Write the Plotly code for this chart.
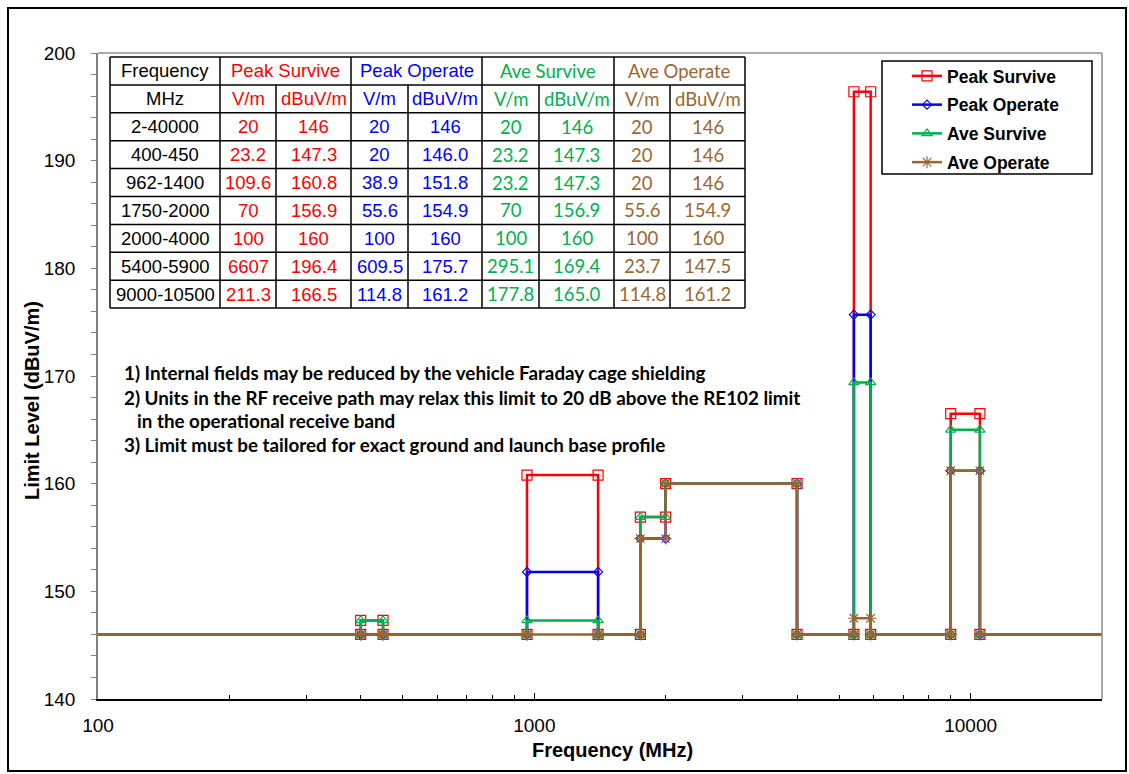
import plotly.graph_objects as go

# ---- Limit table (frequency ranges in MHz, field strengths) ----
freq_ranges = ["2-40000", "400-450", "962-1400", "1750-2000", "2000-4000", "5400-5900", "9000-10500"]

peak_survive_vm = ["20", "23.2", "109.6", "70", "100", "6607", "211.3"]
peak_survive_db = ["146", "147.3", "160.8", "156.9", "160", "196.4", "166.5"]
peak_operate_vm = ["20", "20", "38.9", "55.6", "100", "609.5", "114.8"]
peak_operate_db = ["146", "146.0", "151.8", "154.9", "160", "175.7", "161.2"]
ave_survive_vm = ["20", "23.2", "23.2", "70", "100", "295.1", "177.8"]
ave_survive_db = ["146", "147.3", "147.3", "156.9", "160", "169.4", "165.0"]
ave_operate_vm = ["20", "20", "20", "55.6", "100", "23.7", "114.8"]
ave_operate_db = ["146", "146", "146", "154.9", "160", "147.5", "161.2"]

series_names = ["Peak Survive", "Peak Operate", "Ave Survive", "Ave Operate"]
series_colors = ["#FF0000", "#0000FF", "#00B050", "#996633"]
series_symbols = ["square-open", "diamond-open", "triangle-up-open", "asterisk-open"]
series_marker_sizes = [10, 7, 9, 10]

notes = [
    "1) Internal fields may be reduced by the vehicle Faraday cage shielding",
    "2) Units in the RF receive path may relax this limit to 20 dB above the RE102 limit",
    "in the operational receive band",
    "3) Limit must be tailored for exact ground and launch base profile",
]

x_tick_vals = [100, 1000, 10000]
x_tick_text = ["100", "1000", "10000"]

# ---- plot-area geometry (pixels) ----
FIG_W, FIG_H = 1129, 774
M_L, M_R, M_T, M_B = 98, 27, 53, 75
PW = FIG_W - M_L - M_R
PH = FIG_H - M_T - M_B


def px(x):
    return (x - M_L) / PW


def py(y):
    return 1 - (y - M_T) / PH


def parse_range(r):
    lo, hi = r.split("-")
    return float(lo), float(hi)


def step_points(ranges, levels):
    """Build a stepped limit line: base level everywhere, raised in each band."""
    rng = [parse_range(r) for r in ranges]
    lv = [float(v) for v in levels]
    base = lv[0]
    lo0, hi0 = rng[0]
    bands = list(zip(rng[1:], lv[1:]))
    pts = [(lo0, base)]
    for i, ((lo, hi), v) in enumerate(bands):
        joined = i > 0 and bands[i - 1][0][1] == lo
        if joined:
            pts.pop()  # go straight from the previous band level
        else:
            pts.append((lo, base))
        pts.append((lo, v))
        pts.append((hi, v))
        pts.append((hi, base))
    pts.append((hi0, base))
    return [p[0] for p in pts], [p[1] for p in pts]


fig = go.Figure()

all_db = [peak_survive_db, peak_operate_db, ave_survive_db, ave_operate_db]
for i, (name, col, sym, ms, db) in enumerate(
    zip(series_names, series_colors, series_symbols, series_marker_sizes, all_db)
):
    xs, ys = step_points(freq_ranges, db)
    fig.add_trace(
        go.Scatter(
            x=xs,
            y=ys,
            name=name,
            mode="lines+markers",
            line=dict(color=col, width=2.5),
            marker=dict(symbol=sym, size=ms, color=col, line=dict(color=col, width=1.2)),
            legendgroup=name,
        )
    )

# ---- table drawn with lines and text ----
col_x = [110, 220, 276, 351, 408, 482, 539, 614, 670, 745]
row_h = 27.9
row_y = [57 + row_h * i for i in range(10)]

shapes = []
LINE = dict(color="black", width=1.5)
# horizontal rules
for y in row_y:
    shapes.append(dict(type="line", xref="paper", yref="paper",
                       x0=px(col_x[0]), x1=px(col_x[-1]), y0=py(y), y1=py(y), line=LINE))
# vertical rules (header row merges each pair of value columns)
for j, x in enumerate(col_x):
    top = row_y[0] if j in (0, 1, 3, 5, 7, 9) else row_y[1]
    shapes.append(dict(type="line", xref="paper", yref="paper",
                       x0=px(x), x1=px(x), y0=py(top), y1=py(row_y[-1]), line=LINE))

# plot frame (top and right), legend box and outer border
shapes.append(dict(type="line", xref="paper", yref="paper", x0=0, x1=1, y0=1, y1=1,
                   line=dict(color="#8c8c8c", width=1.5)))
shapes.append(dict(type="line", xref="paper", yref="paper", x0=1, x1=1, y0=0, y1=1,
                   line=dict(color="#8c8c8c", width=1.5)))
shapes.append(dict(type="rect", xref="paper", yref="paper",
                   x0=px(882), x1=px(1092), y0=py(61), y1=py(174),
                   line=dict(color="black", width=1.5), fillcolor="white", layer="above"))
shapes.append(dict(type="rect", xref="paper", yref="paper",
                   x0=px(8), x1=px(1126), y0=py(8), y1=py(771),
                   line=dict(color="black", width=2)))

annotations = []
ARIAL = "Liberation Sans, Arial, sans-serif"
CALI = "Lato, sans-serif"


def cell(text, x0, x1, r, color, family, size=18.5):
    annotations.append(dict(
        text=text, xref="paper", yref="paper",
        x=px((x0 + x1) / 2), y=py(row_y[r] + row_h / 2),
        xanchor="center", yanchor="middle", showarrow=False,
        font=dict(family=family, size=size, color=color),
    ))


cell("Frequency", col_x[0], col_x[1], 0, "black", ARIAL)
cell("MHz", col_x[0], col_x[1], 1, "black", ARIAL)
for r, fr in enumerate(freq_ranges):
    cell(fr, col_x[0], col_x[1], r + 2, "black", ARIAL)

groups = [
    (peak_survive_vm, peak_survive_db, ARIAL),
    (peak_operate_vm, peak_operate_db, ARIAL),
    (ave_survive_vm, ave_survive_db, CALI),
    (ave_operate_vm, ave_operate_db, CALI),
]
for g, ((vm, db, fam), name, col) in enumerate(zip(groups, series_names, series_colors)):
    xa, xb, xc = col_x[1 + 2 * g], col_x[2 + 2 * g], col_x[3 + 2 * g]
    cell(name, xa, xc, 0, col, fam)
    cell("V/m", xa, xb, 1, col, fam)
    cell("dBuV/m", xb, xc, 1, col, fam)
    for r in range(len(vm)):
        cell(vm[r], xa, xb, r + 2, col, fam)
        cell(db[r], xb, xc, r + 2, col, fam)

# ---- notes ----
note_pos = [(122, 373), (122, 397), (135, 420.5), (122, 444)]
for t, (nx, ny) in zip(notes, note_pos):
    annotations.append(dict(
        text="<b>" + t + "</b>", xref="paper", yref="paper",
        x=px(nx), y=py(ny), xanchor="left", yanchor="middle", showarrow=False,
        font=dict(family=CALI, size=18.8, color="black"),
    ))

# ---- axis titles ----
annotations.append(dict(
    text="<b>Frequency (MHz)</b>", xref="paper", yref="paper",
    x=px(612.5), y=py(750), xanchor="center", yanchor="middle", showarrow=False,
    font=dict(family=ARIAL, size=20, color="black"),
))
annotations.append(dict(
    text="<b>Limit Level (dBuV/m)</b>", xref="paper", yref="paper",
    x=px(32), y=py(401), xanchor="center", yanchor="middle", showarrow=False,
    textangle=-90, font=dict(family=ARIAL, size=20, color="black"),
))

fig.update_layout(
    width=FIG_W,
    height=FIG_H,
    margin=dict(l=M_L, r=M_R, t=M_T, b=M_B),
    paper_bgcolor="white",
    plot_bgcolor="white",
    shapes=shapes,
    annotations=annotations,
    showlegend=True,
    legend=dict(
        x=px(883), y=py(58), xanchor="left", yanchor="top",
        bgcolor="rgba(0,0,0,0)", borderwidth=0,
        font=dict(family=ARIAL, size=17.5, color="black", weight="bold"),
        tracegroupgap=3,
        indentation=24,
    ),
    xaxis=dict(
        type="log",
        range=[2, 4.30103],
        tickvals=x_tick_vals,
        ticktext=x_tick_text,
        ticks="inside",
        ticklen=6,
        tickcolor="black",
        showline=True,
        linecolor="black",
        linewidth=1.5,
        showgrid=False,
        zeroline=False,
        tickfont=dict(family=ARIAL, size=19, color="black"),
        ticklabelstandoff=8,
        minor=dict(
            tickvals=[m * d for d in (100, 1000, 10000) for m in range(2, 10) if m * d < 20000],
            ticks="inside", ticklen=4, tickcolor="black", showgrid=False,
        ),
    ),
    yaxis=dict(
        range=[140, 200],
        dtick=10,
        ticks="outside",
        ticklen=5,
        tickcolor="#7f7f7f",
        showline=True,
        linecolor="#7f7f7f",
        linewidth=1.5,
        showgrid=False,
        zeroline=False,
        tickfont=dict(family=ARIAL, size=19, color="black"),
        ticklabelstandoff=12,
        minor=dict(dtick=2, ticks="outside", ticklen=5, tickcolor="#7f7f7f", showgrid=False),
    ),
)

fig.write_html("out.html")
